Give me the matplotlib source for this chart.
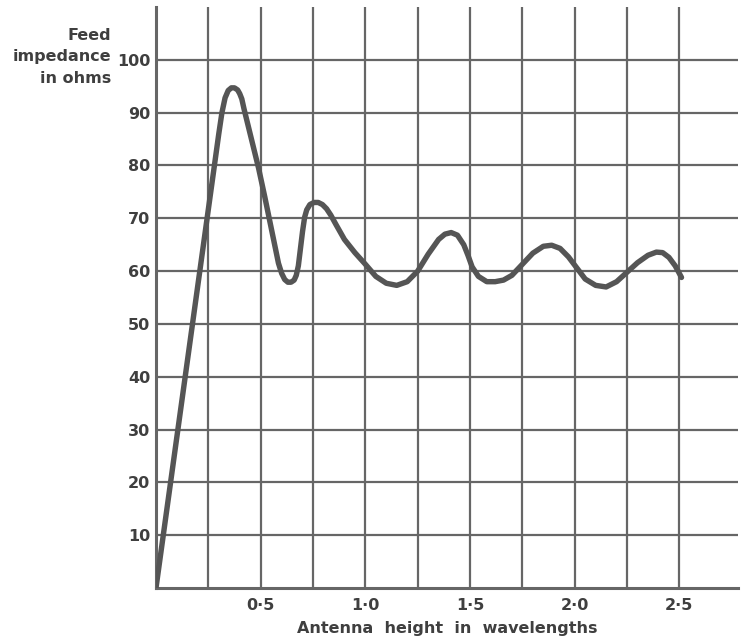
import matplotlib
matplotlib.use("Agg")
import matplotlib.pyplot as plt

# -----------------------------
# Data
# -----------------------------
height = [0.0, 0.30, 0.315, 0.33, 0.345, 0.36, 0.375, 0.39, 0.40, 0.41, 0.42,
          0.49, 0.52, 0.585, 0.60, 0.615, 0.63, 0.645, 0.66, 0.67, 0.68,
          0.70, 0.71, 0.72, 0.735, 0.755, 0.775, 0.795, 0.815, 0.835, 0.86,
          0.90, 0.95, 1.00, 1.05, 1.10, 1.15, 1.20, 1.25, 1.30, 1.35, 1.38,
          1.41, 1.44, 1.47, 1.49, 1.51, 1.54, 1.58, 1.62, 1.66, 1.70, 1.75,
          1.80, 1.85, 1.89, 1.93, 1.97, 2.01, 2.05, 2.10, 2.15, 2.20, 2.25,
          2.30, 2.35, 2.39, 2.42, 2.45, 2.48, 2.51]
impedance = [0.0, 86.0, 90.0, 92.8, 94.2, 94.7, 94.7, 94.3, 93.6, 92.6, 90.8,
             79.5, 74.0, 61.5, 59.6, 58.4, 57.9, 57.9, 58.3, 59.2, 61.0,
             67.5, 70.2, 71.6, 72.6, 73.0, 73.0, 72.6, 71.8, 70.6, 68.8,
             66.0, 63.5, 61.3, 59.0, 57.7, 57.3, 58.0, 60.0, 63.2, 66.0, 67.0,
             67.3, 66.8, 65.0, 63.0, 60.8, 59.0, 58.0, 58.0, 58.3, 59.2, 61.3,
             63.4, 64.7, 64.9, 64.3, 62.7, 60.6, 58.5, 57.3, 57.0, 58.0, 59.8,
             61.6, 63.0, 63.6, 63.5, 62.6, 61.0, 58.8]

x_grid = [0.25, 0.5, 0.75, 1.0, 1.25, 1.5, 1.75, 2.0, 2.25, 2.5]
y_grid = [10, 20, 30, 40, 50, 60, 70, 80, 90, 100]
x_ticks = [0.5, 1.0, 1.5, 2.0, 2.5]
x_tick_labels = ["0\u00b75", "1\u00b70", "1\u00b75", "2\u00b70", "2\u00b75"]
y_ticks = [10, 20, 30, 40, 50, 60, 70, 80, 90, 100]

LINE = "#666666"
TEXT = "#3f3f3f"

fig = plt.figure(figsize=(7.47, 6.41), dpi=100)
ax = fig.add_axes([0.2088, 0.0827, 0.7792, 0.9063])
ax.set_xlim(0, 2.78)
ax.set_ylim(0, 110)

# grid drawn by hand: vertical lines stop at 2.5, horizontals run on
ax.vlines(x_grid, 0, 110, color=LINE, lw=1.6, zorder=1)
ax.hlines(y_grid, 0, 2.78, color=LINE, lw=1.6, zorder=1)

ax.plot(height, impedance, color="#555555", lw=3.9, solid_joinstyle="round",
        solid_capstyle="round", zorder=3)

for s in ["top", "right"]:
    ax.spines[s].set_visible(False)
for s in ["left", "bottom"]:
    ax.spines[s].set_color(LINE)
    ax.spines[s].set_linewidth(2.2)

font = dict(family="DejaVu Sans", weight="heavy", size=11.5, color=TEXT)
ax.set_xticks(x_ticks)
ax.set_xticklabels(x_tick_labels, **font)
ax.set_yticks(y_ticks)
ax.set_yticklabels([str(v) for v in y_ticks], **font)
ax.tick_params(axis="y", length=0, pad=4)
ax.tick_params(axis="x", length=0, pad=7)

ax.set_xlabel("Antenna  height  in  wavelengths", labelpad=6, **font)
fig.text(0.149, 0.957, "Feed\nimpedance\nin ohms", ha="right", va="top",
         linespacing=1.55, **font)

fig.savefig("out.png", dpi=100)
